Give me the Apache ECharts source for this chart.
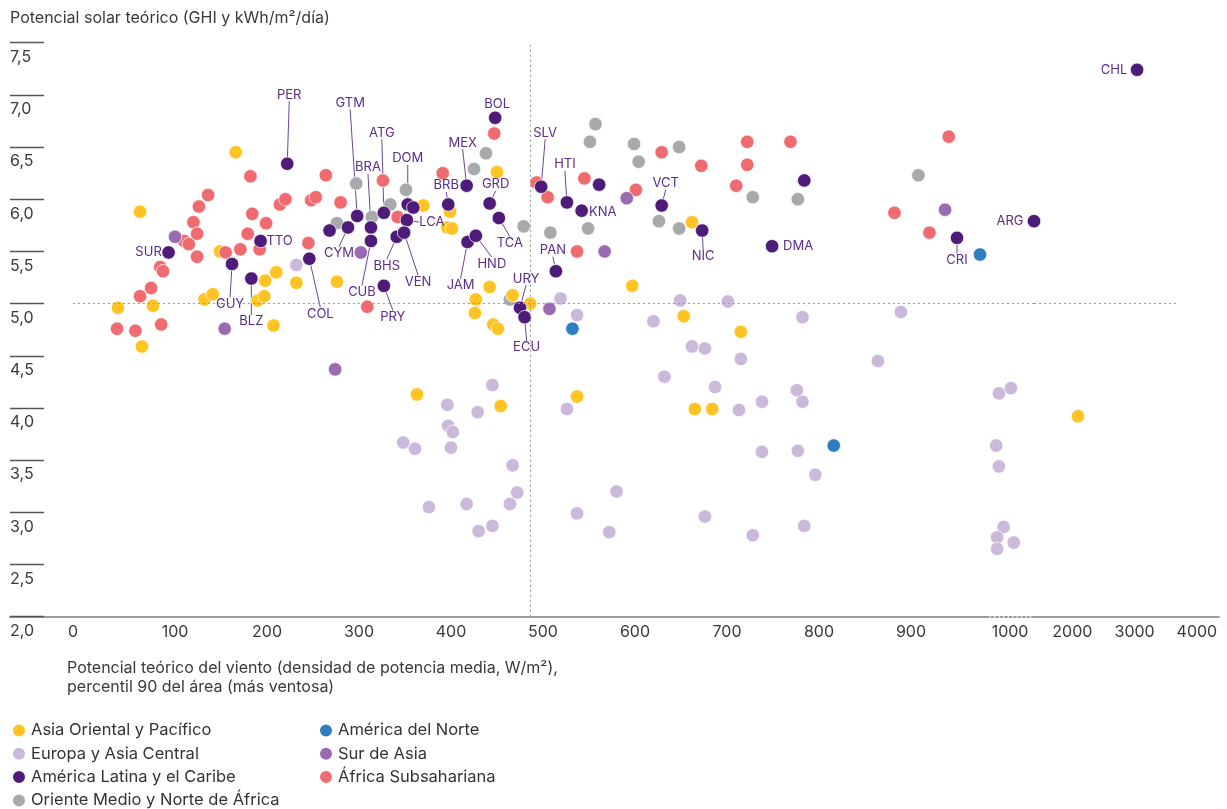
<!DOCTYPE html>
<html>
<head>
<meta charset="utf-8">
<script src="https://cdn.jsdelivr.net/npm/echarts@6/dist/echarts.min.js"></script>
<style>
  html, body { margin: 0; padding: 0; background: #fff; overflow: hidden; }
  #chart { width: 1227px; height: 860px; }
</style>
</head>
<body>
<div id="chart"></div>
<script>
// [wind W/m2 (p90 area), solar GHI kWh/m2/day, country code]
const asiaEastPacific = [
  [166, 6.45], [62, 5.88], [149, 5.50], [198, 5.22], [210, 5.30], [232, 5.20], [132, 5.04],
  [141, 5.09], [190, 5.03], [197, 5.07], [38, 4.96], [76, 4.98], [207, 4.79], [64, 4.59],
  [276, 5.21], [363, 4.13], [370, 5.94], [399, 5.88], [396, 5.73], [401, 5.72], [450, 6.26],
  [442, 5.16], [427, 5.04], [426, 4.91], [446, 4.80], [451, 4.76], [467, 5.08], [486, 5.00],
  [454, 4.02], [537, 4.11], [597, 5.17], [653, 4.88], [662, 5.78], [715, 4.73], [665, 3.99],
  [684, 3.99], [2091, 3.92]
]
const europeCentralAsia = [
  [232, 5.37], [519, 5.05], [537, 4.89], [620, 4.83], [649, 5.03], [701, 5.02], [782, 4.87],
  [889, 4.92], [662, 4.59], [676, 4.57], [715, 4.47], [632, 4.30], [687, 4.20], [864, 4.45],
  [776, 4.17], [782, 4.06], [738, 4.06], [713, 3.98], [738, 3.58], [777, 3.59], [796, 3.36],
  [676, 2.96], [728, 2.78], [784, 2.87], [580, 3.20], [537, 2.99], [572, 2.81], [526, 3.99],
  [445, 4.22], [396, 4.03], [429, 3.96], [397, 3.83], [402, 3.77], [348, 3.67], [361, 3.61],
  [400, 3.62], [467, 3.45], [472, 3.19], [464, 3.08], [376, 3.05], [417, 3.08], [430, 2.82],
  [445, 2.87], [988, 4.14], [1001, 4.19], [985, 3.64], [988, 3.44], [993, 2.86], [986, 2.76],
  [1004, 2.71], [986, 2.65]
]
const latinAmericaCaribbean = [
  [222, 6.34, 'PER'], [298, 5.84, 'GTM'], [327, 5.87, 'ATG'], [313, 5.73, 'BRA'], [313, 5.60, 'CUB'],
  [288, 5.73, 'CYM'], [268, 5.70], [353, 5.95, 'DOM'], [359, 5.92], [352, 5.80, 'LCA'],
  [341, 5.64, 'BHS'], [349, 5.68, 'VEN'], [246, 5.43, 'COL'], [327, 5.17, 'PRY'], [93, 5.49, 'SUR'],
  [193, 5.60, 'TTO'], [162, 5.38, 'GUY'], [183, 5.24, 'BLZ'], [448, 6.78, 'BOL'], [417, 6.13, 'MEX'],
  [397, 5.95, 'BRB'], [442, 5.96, 'GRD'], [452, 5.82, 'TCA'], [418, 5.59, 'JAM'], [427, 5.65, 'HND'],
  [475, 4.96, 'URY'], [480, 4.87, 'ECU'], [498, 6.12, 'SLV'], [526, 5.97, 'HTI'], [542, 5.89, 'KNA'],
  [561, 6.14], [629, 5.94, 'VCT'], [673, 5.70, 'NIC'], [514, 5.31, 'PAN'], [749, 5.55, 'DMA'],
  [784, 6.18], [950, 5.63, 'CRI'], [1385, 5.79, 'ARG'], [3040, 7.24, 'CHL']
]
const middleEastNorthAfrica = [
  [557, 6.72], [551, 6.55], [599, 6.53], [648, 6.50], [604, 6.36], [728, 6.02], [777, 6.00],
  [908, 6.23], [626, 5.79], [648, 5.72], [549, 5.72], [508, 5.68], [479, 5.74], [438, 6.44],
  [425, 6.29], [351, 6.09], [334, 5.95], [314, 5.83], [276, 5.77], [297, 6.15], [464, 5.04]
]
const northAmerica = [[532, 4.76], [816, 3.64], [975, 5.47]]
const southAsia = [
  [100, 5.64], [154, 4.76], [274, 4.37], [302, 5.49], [507, 4.95], [567, 5.50], [591, 6.01], [937, 5.90]
]
const subSaharanAfrica = [
  [136, 6.04], [126, 5.93], [120, 5.78], [124, 5.67], [110, 5.60], [115, 5.57], [124, 5.45],
  [84, 5.35], [87, 5.31], [74, 5.15], [62, 5.07], [182, 6.22], [184, 5.86], [199, 5.77],
  [179, 5.67], [171, 5.52], [192, 5.52], [155, 5.49], [214, 5.95], [220, 6.00], [245, 5.58],
  [264, 6.23], [248, 5.99], [253, 6.02], [280, 5.97], [326, 6.18], [342, 5.83], [309, 4.97],
  [391, 6.25], [447, 6.63], [493, 6.16], [505, 6.02], [545, 6.20], [537, 5.50], [601, 6.09],
  [629, 6.45], [672, 6.32], [710, 6.13], [722, 6.55], [722, 6.33], [769, 6.55], [882, 5.87],
  [920, 5.68], [941, 6.60], [37, 4.76], [57, 4.74], [85, 4.80]
]

// reference lines (medians)
const refWind = 486
const refSolar = 5.0

const windTicksLow = [0, 100, 200, 300, 400, 500, 600, 700, 800, 900]
const windTicksBreak = [1000]
const windTicksHigh = [2000, 3000, 4000]

// label placement: [dx, dy, leader line]
const labelOffsets = {
  PER: [2, -69, 1], GTM: [-7, -113, 1], ATG: [-2, -80, 1], BRA: [-3, -60, 1], DOM: [0, -46, 1],
  CYM: [-9, 26, 1], CUB: [-9, 51, 1], BHS: [-10, 29, 1], VEN: [14, 49, 1], LCA: [25, 2, 1],
  COL: [11, 55, 1], PRY: [9, 31, 1], SUR: [-20, 0, 0], TTO: [19, 0, 0], GUY: [-2, 40, 1],
  BLZ: [0, 43, 1], BOL: [2, -14, 0], MEX: [-4, -43, 1], BRB: [-2, -19, 1], GRD: [6, -19, 1],
  TCA: [11, 25, 1], JAM: [-7, 43, 1], HND: [16, 28, 1], URY: [6, -29, 1], ECU: [2, 30, 1],
  SLV: [4, -54, 1], HTI: [-2, -38, 1], KNA: [21, 1, 0], VCT: [4, -22, 1], NIC: [1, 26, 1],
  PAN: [-3, -21, 1], DMA: [26, 0, 0], CRI: [0, 22, 1], ARG: [-24, 0, 0], CHL: [-23, 0, 0]
}

const FONT = 'Inter, Roboto, sans-serif'
const TEXT = '#3a3a3a'

// drawing order (last on top)
const regions = [
  { name: 'Europa y Asia Central', color: '#cbb9db', data: europeCentralAsia },
  { name: 'Oriente Medio y Norte de África', color: '#a8a9ab', data: middleEastNorthAfrica },
  { name: 'Asia Oriental y Pacífico', color: '#ffc424', data: asiaEastPacific },
  { name: 'África Subsahariana', color: '#f06b70', data: subSaharanAfrica },
  { name: 'Sur de Asia', color: '#9a6bb0', data: southAsia },
  { name: 'América del Norte', color: '#2f7ec2', data: northAmerica },
  { name: 'América Latina y el Caribe', color: '#4f1b78', data: latinAmericaCaribbean }
]

// broken wind axis: 0-900 linear, a short break around 1000, then compressed 1000-4000
// hline: extent of the dotted solar median inside each part
const segments = [
  { test: x => x <= 982, hline: [-11, 982.6] },
  { test: x => x > 982 && x <= 1030, hline: [975, 1026] },
  { test: x => x > 1030, hline: [1385, 3664] }
]

function toItem(p) {
  const item = { value: [p[0], p[1]] }
  if (p[2]) {
    item.name = p[2]
    item.label = { show: true, formatter: p[2] }
    item.labelLine = { show: !!labelOffsets[p[2]][2] }
  }
  return item
}

const refLineStyle = { type: [2, 3], color: '#9a9a9a', width: 1.2 }
const series = []
const hasRef = [false, false, false]
regions.forEach(r => {
  segments.forEach((s, i) => {
    const pts = r.data.filter(p => s.test(p[0]))
    if (!pts.length) return
    const ser = {
      type: 'scatter',
      name: r.name,
      xAxisIndex: i,
      yAxisIndex: i,
      data: pts.map(toItem),
      symbolSize: 13.5,
      clip: false,
      itemStyle: { color: r.color, borderColor: '#fff', borderWidth: 0.7, opacity: 1 },
      label: { show: false, position: 'inside', color: '#5b2d88', fontSize: 13, fontFamily: FONT },
      labelLine: { show: false, length2: 0, lineStyle: { color: '#6b4594', width: 1 } },
      labelLayout: p => {
        const o = labelOffsets[p.text]
        return o ? { dx: o[0], dy: o[1] } : {}
      },
      emphasis: { disabled: true }
    }
    if (!hasRef[i]) {
      hasRef[i] = true
      const lines = [[{ coord: [s.hline[0], refSolar] }, { coord: [s.hline[1], refSolar] }]]
      if (i === 0) lines.push([{ coord: [refWind, 2] }, { coord: [refWind, 7.5] }])
      ser.markLine = {
        silent: true, symbol: 'none', label: { show: false },
        lineStyle: refLineStyle, data: lines
      }
    }
    series.push(ser)
  })
})

const comma = v => v.toFixed(1).replace('.', ',')
const gridBase = { top: 42.7, height: 574 }
const xBase = {
  type: 'value',
  axisTick: { show: false },
  splitLine: { show: false },
  axisLine: { onZero: false, lineStyle: { color: '#9b9b9b', width: 2 } }
}
const xLabel = { margin: 7.6, fontSize: 16, color: TEXT, fontFamily: FONT, formatter: v => String(v) }
const yHidden = { type: 'value', min: 2, max: 7.5, show: false }
const legendBase = {
  orient: 'vertical', top: 722, padding: 0, itemGap: 6.3,
  itemWidth: 14, itemHeight: 14, icon: 'circle', selectedMode: false,
  textStyle: { fontSize: 16.5, lineHeight: 15, color: '#333', fontFamily: FONT }
}

const chart = echarts.init(document.getElementById('chart'))
chart.setOption({
  animation: false,
  textStyle: { fontFamily: FONT },
  title: [
    {
      text: 'Potencial solar teórico (GHI y kWh/m²/día)',
      left: 10, top: 9, padding: 0,
      textStyle: { fontSize: 16, fontWeight: 'normal', color: TEXT, fontFamily: FONT, lineHeight: 18 }
    },
    {
      text: 'Potencial teórico del viento (densidad de potencia media, W/m²),\npercentil 90 del área (más ventosa)',
      left: 67, top: 658, padding: 0,
      textStyle: { fontSize: 16, fontWeight: 'normal', color: TEXT, fontFamily: FONT, lineHeight: 19.6 }
    }
  ],
  legend: [
    Object.assign({}, legendBase, {
      left: 11,
      data: ['Asia Oriental y Pacífico', 'Europa y Asia Central', 'América Latina y el Caribe', 'Oriente Medio y Norte de África']
    }),
    Object.assign({}, legendBase, {
      left: 318,
      data: ['América del Norte', 'Sur de Asia', 'África Subsahariana']
    })
  ],
  grid: [
    Object.assign({ left: 10, width: 977 }, gridBase),
    Object.assign({ left: 987, width: 47 }, gridBase),
    Object.assign({ left: 1034, width: 185 }, gridBase)
  ],
  xAxis: [
    Object.assign({}, xBase, {
      gridIndex: 0, min: -79.35, max: 982.6,
      axisLabel: Object.assign({}, xLabel, {
        customValues: windTicksLow,
        formatter: v => (v === 0 ? '{z|0}' : String(v)),
        rich: { z: { fontSize: 16, color: TEXT, fontFamily: FONT, padding: [0, 20, 0, 0] } }
      })
    }),
    Object.assign({}, xBase, {
      gridIndex: 1, min: 975, max: 1026,
      axisLine: { onZero: false, lineStyle: { color: '#9b9b9b', width: 2, type: [2, 2.5] } },
      axisLabel: Object.assign({}, xLabel, { customValues: windTicksBreak })
    }),
    Object.assign({}, xBase, {
      gridIndex: 2, min: 1385, max: 4355,
      axisLabel: Object.assign({}, xLabel, { customValues: windTicksHigh })
    })
  ],
  yAxis: [
    {
      type: 'value', gridIndex: 0, min: 2, max: 7.5, interval: 0.5,
      axisLine: { show: false, onZero: false },
      splitLine: { show: false },
      axisTick: { show: true, inside: true, length: 34, lineStyle: { color: '#555', width: 1.3 } },
      axisLabel: {
        inside: true, margin: 0, align: 'left', verticalAlign: 'top', padding: [6.5, 0, 0, 0],
        fontSize: 16, color: TEXT, fontFamily: FONT, formatter: comma
      }
    },
    Object.assign({ gridIndex: 1 }, yHidden),
    Object.assign({ gridIndex: 2 }, yHidden)
  ],
  series: series
})
</script>
</body>
</html>
